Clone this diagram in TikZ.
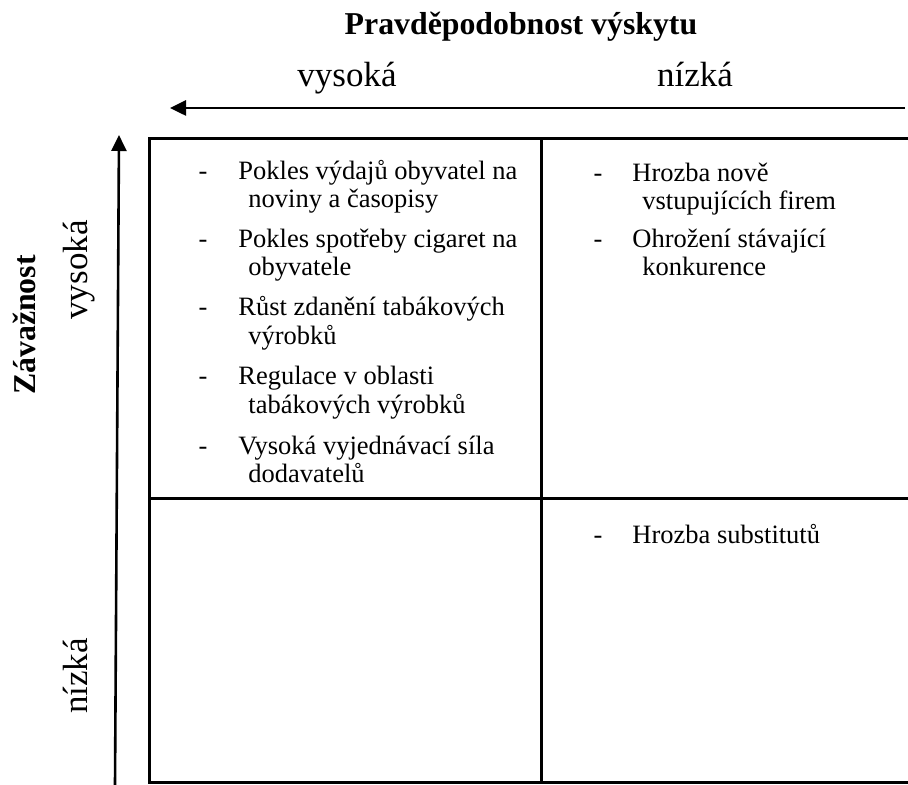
\documentclass[tikz,border=0pt]{standalone}
\usepackage{fontspec}
\setmainfont{Liberation Serif}
\usetikzlibrary{arrows.meta}
\begin{document}
\begin{tikzpicture}[x=0.5pt,y=-0.5pt,
  body/.style={anchor=base west, inner sep=0pt, font=\fontsize{13.25}{15}\selectfont},
  dashmark/.style={anchor=base, inner sep=0pt, font=\fontsize{13.25}{15}\selectfont},
  axislabel/.style={anchor=base, inner sep=0pt, font=\fontsize{17.5}{20}\selectfont},
  heading/.style={anchor=base, inner sep=0pt, font=\bfseries\fontsize{15.9}{18}\selectfont},
  frame/.style={line width=1.5pt},
  axis/.style={line width=1.3pt, -{Triangle[length=8pt,width=7.5pt]}}
]
\useasboundingbox (0,0) rectangle (908,785);

% headings and axis labels
\node[heading] (title) at (521,35) {Pravděpodobnost výskytu};
\node[axislabel] (xhigh) at (347,87) {vysoká};
\node[axislabel] (xlow) at (695,87) {nízká};
\node[heading, rotate=90] (ytitle) at (35,325) {Závažnost};
\node[axislabel, rotate=90] (yhigh) at (87,270) {vysoká};
\node[axislabel, rotate=90] (ylow) at (87,676) {nízká};

% axes
\coordinate (xstart) at (905,108);
\coordinate (xend) at (170,108);
\coordinate (ystart) at (115,785);
\coordinate (yend) at (119,135);
\draw[axis] (xstart) -- (xend);
\draw[axis] (ystart) -- (yend);

% the four-cell grid
\draw[frame] (149,139) rectangle (920,782);
\draw[frame] (541,139) -- (541,782);
\draw[frame] (149,498) -- (920,498);

% top left cell
\node[dashmark] (d1) at (203,180) {-};
\node[body] (t1a) at (238,180) {Pokles výdajů obyvatel na};
\node[body] (t1b) at (248,208) {noviny a časopisy};
\node[dashmark] (d2) at (203,248) {-};
\node[body] (t2a) at (238,248) {Pokles spotřeby cigaret na};
\node[body] (t2b) at (248,276) {obyvatele};
\node[dashmark] (d3) at (203,316) {-};
\node[body] (t3a) at (238,316) {Růst zdanění tabákových};
\node[body] (t3b) at (248,344) {výrobků};
\node[dashmark] (d4) at (203,385) {-};
\node[body] (t4a) at (238,385) {Regulace v oblasti};
\node[body] (t4b) at (248,413) {tabákových výrobků};
\node[dashmark] (d5) at (203,454) {-};
\node[body] (t5a) at (238,454) {Vysoká vyjednávací síla};
\node[body] (t5b) at (248,482) {dodavatelů};

% top right cell
\node[dashmark] (d6) at (598,182) {-};
\node[body] (t6a) at (632,182) {Hrozba nově};
\node[body] (t6b) at (642,210) {vstupujících firem};
\node[dashmark] (d7) at (598,248) {-};
\node[body] (t7a) at (632,248) {Ohrožení stávající};
\node[body] (t7b) at (642,276) {konkurence};

% bottom right cell
\node[dashmark] (d8) at (598,543) {-};
\node[body] (t8a) at (632,543) {Hrozba substitutů};
\end{tikzpicture}
\end{document}
